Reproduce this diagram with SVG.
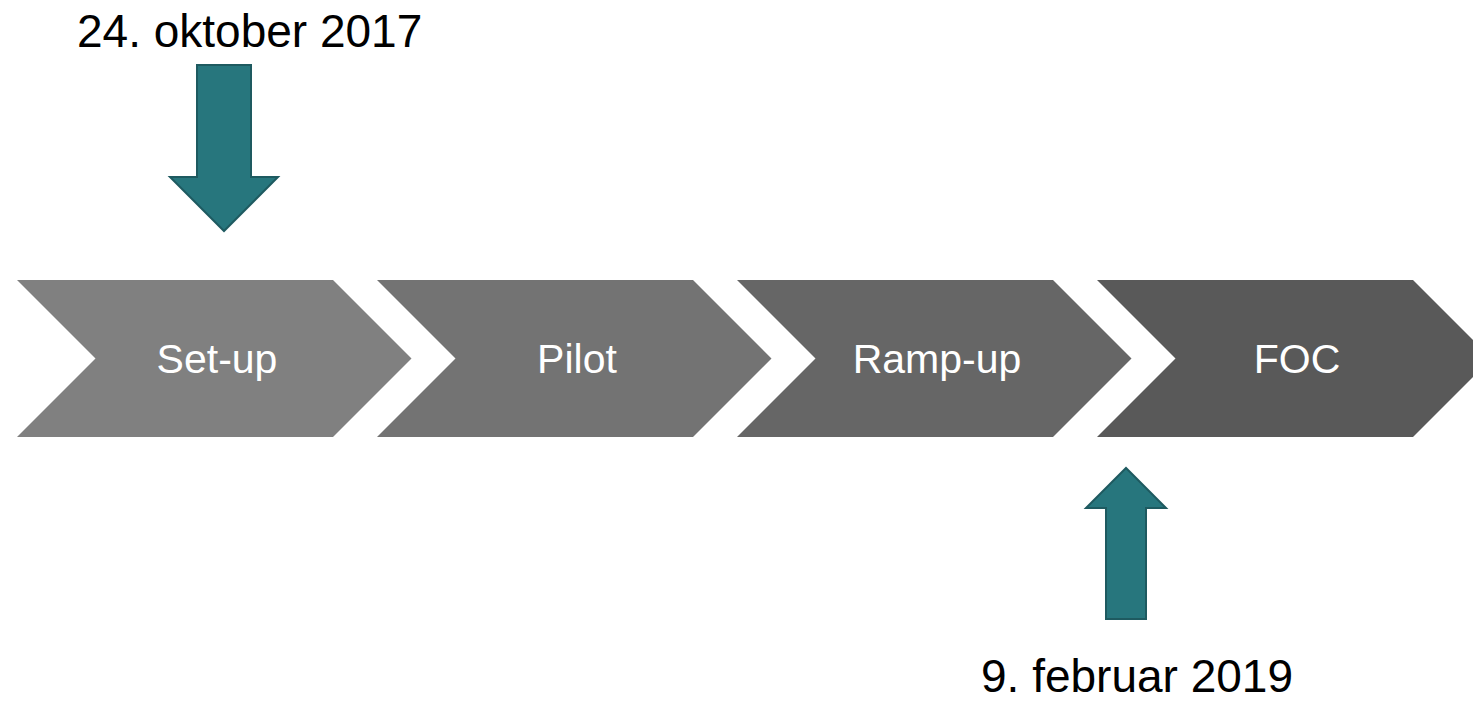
<svg xmlns="http://www.w3.org/2000/svg" width="1473" height="707" viewBox="0 0 1473 707">
<style>
.lbl{font-family:"Liberation Sans",Arial,sans-serif;font-size:41px;fill:#ffffff;text-anchor:middle}
.date{font-family:"Liberation Sans",Arial,sans-serif;font-size:46px;fill:#000000}
.arr{fill:#27767D;stroke:#1E5A60;stroke-width:2}
</style>
<rect width="1473" height="707" fill="#ffffff"/>
<g id="setup">
<polygon points="17,280 333,280 411.5,358.5 333,437 17,437 95.5,358.5" fill="#808080"/>
<text class="lbl" x="217" y="373">Set-up</text>
</g>
<g id="pilot">
<polygon points="377,280 693,280 771.5,358.5 693,437 377,437 455.5,358.5" fill="#737373"/>
<text class="lbl" x="577" y="373">Pilot</text>
</g>
<g id="rampup">
<polygon points="737,280 1053,280 1131.5,358.5 1053,437 737,437 815.5,358.5" fill="#666666"/>
<text class="lbl" x="937" y="373">Ramp-up</text>
</g>
<g id="foc">
<polygon points="1097,280 1413,280 1491.5,358.5 1413,437 1097,437 1175.5,358.5" fill="#595959"/>
<text class="lbl" x="1297" y="373">FOC</text>
</g>
<g id="connectors">
<polygon class="arr" points="197,65 251,65 251,177 278,177 224,231 170,177 197,177"/>
<polygon class="arr" points="1106,619 1146,619 1146,508 1166,508 1126,468 1086,508 1106,508"/>
</g>
<g id="date-start">
<text class="date" x="77" y="47">24. oktober 2017</text>
</g>
<g id="date-end">
<text class="date" x="981" y="692">9. februar 2019</text>
</g>
</svg>
